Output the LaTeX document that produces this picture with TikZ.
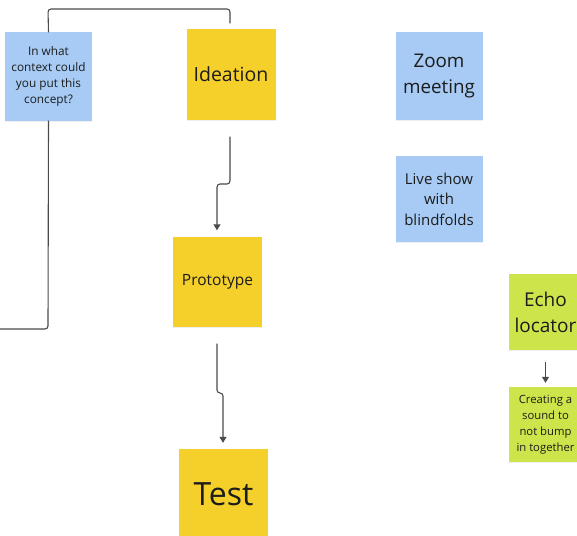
\documentclass[tikz,border=0pt]{standalone}
\usepackage{fontspec}
\setmainfont{Open Sans}
\usetikzlibrary{arrows.meta,shadows}
\definecolor{stickyyellow}{HTML}{F5D02A}
\definecolor{stickyblue}{HTML}{A7CBF4}
\definecolor{stickygreen}{HTML}{CDE54A}
\definecolor{inkdark}{HTML}{1C1C1C}
\definecolor{wire}{HTML}{4A4A4A}
\tikzset{
  sticky/.style={rectangle, inner sep=0pt, text=inkdark, align=center,
    drop shadow={opacity=0.12, shadow xshift=0pt, shadow yshift=-1.2pt}},
  yellownote/.style={sticky, fill=stickyyellow, minimum width=89pt, minimum height=90pt},
  bluenote/.style={sticky, fill=stickyblue, minimum width=87pt, minimum height=88pt},
  greennote/.style={sticky, fill=stickygreen, minimum width=73pt, minimum height=76pt},
  link/.style={draw=wire, line width=1.1pt, rounded corners=3pt},
  flow/.style={link, -{Triangle[length=6pt,width=7pt]}},
}
\begin{document}
\begin{tikzpicture}[x=1pt,y=-1pt]
\useasboundingbox (0,0) rectangle (577,535);
\clip (0,0) rectangle (577,535);
\fill[white] (0,0) rectangle (577,535);

% process column
\node[yellownote, font=\fontsize{19.5}{23}\selectfont] (ideation) at (231,74.5) {Ideation};
\node[yellownote, font=\fontsize{15.5}{18}\selectfont] (prototype) at (217.5,281.5) {Prototype};
\node[yellownote, font=\fontsize{32}{36}\selectfont] (test) at (223.5,494) {Test};

% question note on the left
\node[bluenote, font=\fontsize{11.8}{16}\selectfont] (context) at (48.5,76.5)
  {In what\\context could\\you put this\\concept?};

% ideas
\node[bluenote, font=\fontsize{18.8}{26}\selectfont] (zoom) at (439,76) {Zoom\\meeting};
\node[bluenote, minimum height=86pt, font=\fontsize{15}{20.5}\selectfont] (live) at (439,199)
  {Live show\\with\\blindfolds};
\node[greennote, font=\fontsize{19}{26}\selectfont] (echo) at (545.5,312) {Echo\\locator};
\node[greennote, minimum height=75pt, font=\fontsize{11.3}{16}\selectfont] (sound) at (545.5,424.5)
  {Creating a\\sound to\\not bump\\in together};

% connectors
\coordinate (leftend) at (0,329);
\draw[link] (context.north) -- (48,9) -- (230,9) -- ([xshift=-1pt,yshift=6pt]ideation.north);
\draw[link] (context.south) -- (48,329) -- (leftend);
\draw[flow] ([xshift=-1pt,yshift=-17pt]ideation.south) -- (230,184) -- (217,184)
  -- ([xshift=-0.5pt,yshift=6pt]prototype.north);
\draw[flow] ([xshift=-0.5pt,yshift=-17pt]prototype.south) -- (217,393) -- (223,393)
  -- ([xshift=-0.5pt,yshift=6pt]test.north);
\draw[flow] ([yshift=-12pt]echo.south) -- ([yshift=4pt]sound.north);
\end{tikzpicture}
\end{document}
